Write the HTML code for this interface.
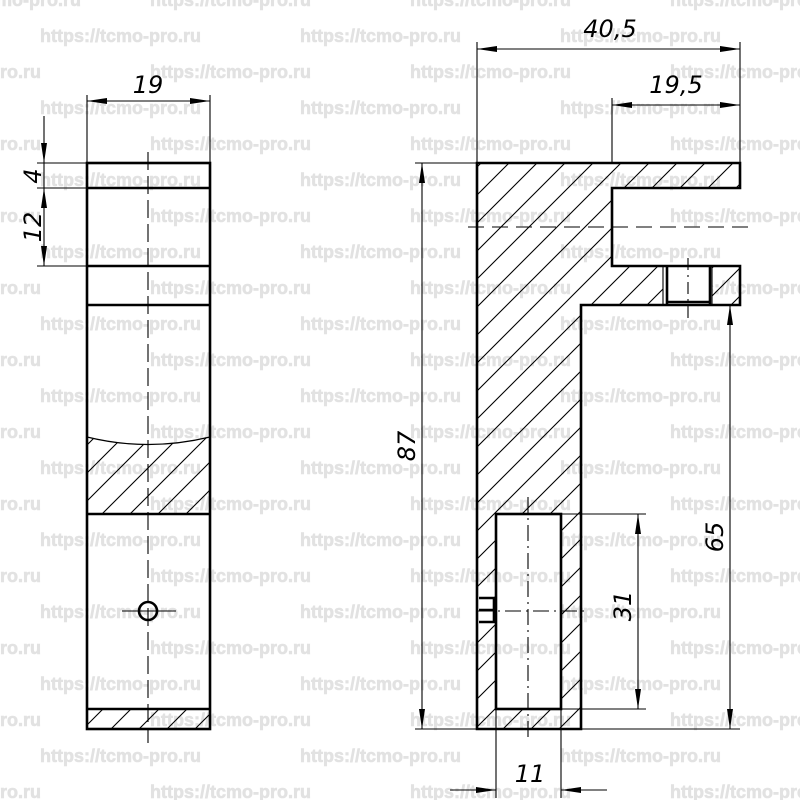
<!DOCTYPE html>
<html><head><meta charset="utf-8"><style>html,body{margin:0;padding:0;background:#fff}svg{display:block}</style></head>
<body>
<svg width="800" height="800" viewBox="0 0 800 800" xmlns="http://www.w3.org/2000/svg">
<defs>
<pattern id="h" patternUnits="userSpaceOnUse" width="28" height="28">
<path d="M-7,7 L7,-7 M0,28 L28,0 M21,35 L35,21" stroke="#000" stroke-width="1.1"/>
</pattern>
<marker id="a" viewBox="0 0 20 6" refX="20" refY="3" markerWidth="20" markerHeight="6" markerUnits="userSpaceOnUse" orient="auto"><path d="M0,0 L20,3 L0,6 Z"/></marker>
<marker id="b" viewBox="0 0 20 6" refX="0" refY="3" markerWidth="20" markerHeight="6" markerUnits="userSpaceOnUse" orient="auto"><path d="M20,0 L0,3 L20,6 Z"/></marker>
</defs>
<g font-family="Liberation Sans, sans-serif" font-weight="bold" font-size="18" fill="#e2e2e2" stroke="#e2e2e2" stroke-width="0.6">
<text x="-80" y="6">https://tcmo-pro.ru</text><text x="150" y="6">https://tcmo-pro.ru</text><text x="410" y="6">https://tcmo-pro.ru</text><text x="670" y="6">https://tcmo-pro.ru</text>
<text x="40" y="42">https://tcmo-pro.ru</text><text x="300" y="42">https://tcmo-pro.ru</text><text x="560" y="42">https://tcmo-pro.ru</text>
<text x="-120" y="78">https://tcmo-pro.ru</text><text x="150" y="78">https://tcmo-pro.ru</text><text x="410" y="78">https://tcmo-pro.ru</text><text x="670" y="78">https://tcmo-pro.ru</text>
<text x="40" y="114">https://tcmo-pro.ru</text><text x="300" y="114">https://tcmo-pro.ru</text><text x="560" y="114">https://tcmo-pro.ru</text>
<text x="-120" y="150">https://tcmo-pro.ru</text><text x="150" y="150">https://tcmo-pro.ru</text><text x="410" y="150">https://tcmo-pro.ru</text><text x="670" y="150">https://tcmo-pro.ru</text>
<text x="40" y="186">https://tcmo-pro.ru</text><text x="300" y="186">https://tcmo-pro.ru</text><text x="560" y="186">https://tcmo-pro.ru</text>
<text x="-120" y="222">https://tcmo-pro.ru</text><text x="150" y="222">https://tcmo-pro.ru</text><text x="410" y="222">https://tcmo-pro.ru</text><text x="670" y="222">https://tcmo-pro.ru</text>
<text x="40" y="258">https://tcmo-pro.ru</text><text x="300" y="258">https://tcmo-pro.ru</text><text x="560" y="258">https://tcmo-pro.ru</text>
<text x="-120" y="294">https://tcmo-pro.ru</text><text x="150" y="294">https://tcmo-pro.ru</text><text x="410" y="294">https://tcmo-pro.ru</text><text x="670" y="294">https://tcmo-pro.ru</text>
<text x="40" y="330">https://tcmo-pro.ru</text><text x="300" y="330">https://tcmo-pro.ru</text><text x="560" y="330">https://tcmo-pro.ru</text>
<text x="-120" y="366">https://tcmo-pro.ru</text><text x="150" y="366">https://tcmo-pro.ru</text><text x="410" y="366">https://tcmo-pro.ru</text><text x="670" y="366">https://tcmo-pro.ru</text>
<text x="40" y="402">https://tcmo-pro.ru</text><text x="300" y="402">https://tcmo-pro.ru</text><text x="560" y="402">https://tcmo-pro.ru</text>
<text x="-120" y="438">https://tcmo-pro.ru</text><text x="150" y="438">https://tcmo-pro.ru</text><text x="410" y="438">https://tcmo-pro.ru</text><text x="670" y="438">https://tcmo-pro.ru</text>
<text x="40" y="474">https://tcmo-pro.ru</text><text x="300" y="474">https://tcmo-pro.ru</text><text x="560" y="474">https://tcmo-pro.ru</text>
<text x="-120" y="510">https://tcmo-pro.ru</text><text x="150" y="510">https://tcmo-pro.ru</text><text x="410" y="510">https://tcmo-pro.ru</text><text x="670" y="510">https://tcmo-pro.ru</text>
<text x="40" y="546">https://tcmo-pro.ru</text><text x="300" y="546">https://tcmo-pro.ru</text><text x="560" y="546">https://tcmo-pro.ru</text>
<text x="-120" y="582">https://tcmo-pro.ru</text><text x="150" y="582">https://tcmo-pro.ru</text><text x="410" y="582">https://tcmo-pro.ru</text><text x="670" y="582">https://tcmo-pro.ru</text>
<text x="40" y="618">https://tcmo-pro.ru</text><text x="300" y="618">https://tcmo-pro.ru</text><text x="560" y="618">https://tcmo-pro.ru</text>
<text x="-120" y="654">https://tcmo-pro.ru</text><text x="150" y="654">https://tcmo-pro.ru</text><text x="410" y="654">https://tcmo-pro.ru</text><text x="670" y="654">https://tcmo-pro.ru</text>
<text x="40" y="690">https://tcmo-pro.ru</text><text x="300" y="690">https://tcmo-pro.ru</text><text x="560" y="690">https://tcmo-pro.ru</text>
<text x="-120" y="726">https://tcmo-pro.ru</text><text x="150" y="726">https://tcmo-pro.ru</text><text x="410" y="726">https://tcmo-pro.ru</text><text x="670" y="726">https://tcmo-pro.ru</text>
<text x="40" y="762">https://tcmo-pro.ru</text><text x="300" y="762">https://tcmo-pro.ru</text><text x="560" y="762">https://tcmo-pro.ru</text>
<text x="-120" y="798">https://tcmo-pro.ru</text><text x="150" y="798">https://tcmo-pro.ru</text><text x="410" y="798">https://tcmo-pro.ru</text><text x="670" y="798">https://tcmo-pro.ru</text>
</g>

<!-- LEFT VIEW -->
<path d="M87,437 Q148,452 210,437 V514 H87 Z" fill="url(#h)"/>
<rect x="87" y="709" width="123" height="20" fill="url(#h)"/>
<path d="M87,437 Q148,452 210,437" fill="none" stroke="#000" stroke-width="1.2"/>
<g stroke="#000" stroke-width="2.6" fill="none">
<rect x="87" y="163" width="123" height="566"/>
<path d="M87,188H210 M87,266H210 M87,305H210 M87,514H210 M87,709H210"/>
<circle cx="148" cy="611" r="9"/>
</g>
<g stroke="#000" stroke-width="1.1" fill="none">
<path d="M148,152 V743" stroke-dasharray="18,6"/>
<path d="M122,611H176"/>
<path d="M87,95V163 M210,95V163"/>
<path d="M87,101H210" marker-start="url(#b)" marker-end="url(#a)"/>
<path d="M37,163H87 M37,188H87 M37,266H87"/>
<path d="M44,116V163" marker-end="url(#a)"/>
<path d="M44,188V266" marker-start="url(#b)" marker-end="url(#a)"/>
<path d="M44,163V188"/>
</g>

<!-- RIGHT VIEW -->
<path fill-rule="evenodd" fill="url(#h)" d="M477,163H740V188H612V266H740V305H581V729H477Z M496,514H561V709H496Z M663,266H712V305H663Z M477,598H494V622H477Z"/>
<rect x="663" y="266" width="49" height="39" fill="#fff"/>
<g stroke="#000" stroke-width="2.6" fill="none">
<path d="M477,163H740V188H612V266H740V305H581V729H477Z"/>
<rect x="496" y="514" width="65" height="195"/>
<path d="M667,266V305 M710,266V305 M667,302H710"/>
<path d="M479,598H494V622H479 M479,610H494"/>
</g>
<g stroke="#000" stroke-width="1.1" fill="none">
<path d="M663,266V305 M712,266V305"/>
<path d="M468,227H752" stroke-dasharray="16,8"/>
<path d="M688,258V322" stroke-dasharray="12,5,2,5"/>
<path d="M528,497V740" stroke-dasharray="16,5,2,5"/>
<path d="M477,611H588" stroke-dasharray="16,5,2,5"/>
<path d="M477,42V163 M740,42V163 M612,98V163"/>
<path d="M477,49H740" marker-start="url(#b)" marker-end="url(#a)"/>
<path d="M612,105H740" marker-start="url(#b)" marker-end="url(#a)"/>
<path d="M415,163H477 M415,729H740"/>
<path d="M422,163V729" marker-start="url(#b)" marker-end="url(#a)"/>
<path d="M730,305V729" marker-start="url(#b)" marker-end="url(#a)"/>
<path d="M561,514H646 M561,709H646"/>
<path d="M638,514V709" marker-start="url(#b)" marker-end="url(#a)"/>
<path d="M496,709V798 M561,709V798"/>
<path d="M450,790H496" marker-end="url(#a)"/>
<path d="M607,790H561" marker-end="url(#a)"/>
</g>

<g font-family="DejaVu Sans, Liberation Sans, sans-serif" font-style="italic" font-size="24" fill="#000">
<text x="148" y="93" text-anchor="middle">19</text>
<text x="0" y="0" text-anchor="middle" transform="translate(41,176) rotate(-90)">4</text>
<text x="0" y="0" text-anchor="middle" transform="translate(41,227) rotate(-90)">12</text>
<text x="610" y="37" text-anchor="middle">40,5</text>
<text x="676" y="93" text-anchor="middle">19,5</text>
<text x="0" y="0" text-anchor="middle" transform="translate(415,446) rotate(-90)">87</text>
<text x="0" y="0" text-anchor="middle" transform="translate(723,537) rotate(-90)">65</text>
<text x="0" y="0" text-anchor="middle" transform="translate(631,606) rotate(-90)">31</text>
<text x="530" y="782" text-anchor="middle">11</text>
</g>
</svg>
</body></html>
